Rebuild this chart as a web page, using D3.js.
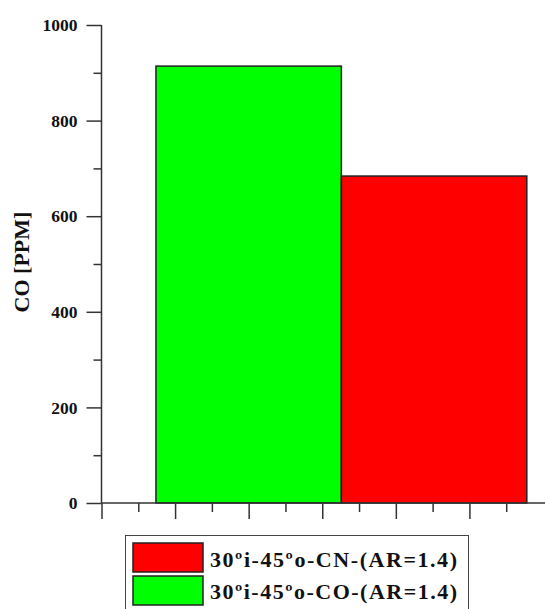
<!DOCTYPE html>
<html><head><meta charset="utf-8">
<script src="https://cdn.jsdelivr.net/npm/d3@7"></script>
<style>body{margin:0;background:#fff}svg{display:block}</style>
</head><body>
<svg id="c" width="545" height="609"></svg>
<script>
const series = ["30ºi-45ºo-CO-(AR=1.4)", "30ºi-45ºo-CN-(AR=1.4)"];
const values = [914, 684];
const centers = [2, 4.52];
const barWidthUnits = 2.52;
const colors = ["#00ff00", "#ff0000"];
const yTicks = [0, 200, 400, 600, 800, 1000];
const legendOrder = [1, 0];

const svg = d3.select("#c");
const x = d3.scaleLinear().domain([0, 6]).range([101.5, 543]);
const y = d3.scaleLinear().domain([0, 1000]).range([503, 25]);
const axisColor = "#333";

// bars
svg.selectAll("rect.bar").data(values).enter().append("rect")
  .attr("x", (d,i) => x(centers[i] - barWidthUnits/2))
  .attr("width", (d,i) => x(centers[i] + barWidthUnits/2) - x(centers[i] - barWidthUnits/2))
  .attr("y", d => y(d))
  .attr("height", d => y(0) - y(d))
  .attr("fill", (d,i) => colors[i])
  .attr("stroke", "#222").attr("stroke-width", 1.5);

// y axis
const yAxis = d3.axisLeft(y).tickValues(yTicks).tickSize(15).tickPadding(9).tickFormat(d3.format("d"));
const gy = svg.append("g").attr("transform", `translate(${x(0)},0)`).call(yAxis);
gy.select(".domain").attr("stroke", axisColor).attr("stroke-width", 1.5).attr("d", `M0,${y(1000)}V${y(0)}`);
gy.selectAll(".tick line").attr("stroke", axisColor).attr("stroke-width", 1.5);
gy.selectAll(".tick text").attr("font-family", "Liberation Serif").attr("font-weight", "bold").attr("font-size", 17.5).attr("fill", "#111");
const yMinor = d3.axisLeft(y).tickValues([100,300,500,700,900]).tickSize(8).tickFormat("");
const gym = svg.append("g").attr("transform", `translate(${x(0)},0)`).call(yMinor);
gym.select(".domain").remove();
gym.selectAll(".tick line").attr("stroke", axisColor).attr("stroke-width", 1.5);

// x axis
const xAxis = d3.axisBottom(x).tickValues([0,1,2,3,4,5]).tickSize(16).tickFormat("");
const gx = svg.append("g").attr("transform", `translate(0,${y(0)})`).call(xAxis);
gx.select(".domain").attr("stroke", axisColor).attr("stroke-width", 1.5).attr("d", `M${x(0)},0H545`);
gx.selectAll(".tick line").attr("stroke", axisColor).attr("stroke-width", 1.5);
const xMinor = d3.axisBottom(x).tickValues([0.5,1.5,2.5,3.5,4.5,5.5]).tickSize(9).tickFormat("");
const gxm = svg.append("g").attr("transform", `translate(0,${y(0)})`).call(xMinor);
gxm.select(".domain").remove();
gxm.selectAll(".tick line").attr("stroke", axisColor).attr("stroke-width", 1.5);

// y title
svg.append("text").attr("transform", "translate(29,262) rotate(-90)")
  .attr("text-anchor", "middle").attr("font-family", "Liberation Serif").attr("font-weight", "bold")
  .attr("font-size", 22).attr("fill", "#111").text("CO [PPM]");

// legend
const lg = svg.append("g");
lg.append("rect").attr("x", 125.5).attr("y", 535.5).attr("width", 343).attr("height", 80)
  .attr("fill", "#fff").attr("stroke", "#444").attr("stroke-width", 1);
legendOrder.forEach((si, row) => {
  lg.append("rect").attr("x", 133).attr("y", 543 + row*33).attr("width", 70).attr("height", 29)
    .attr("fill", colors[si]).attr("stroke", "#222").attr("stroke-width", 1.5);
  lg.append("text").attr("x", 210).attr("y", 566.5 + row*32.5)
    .attr("font-family", "Liberation Serif").attr("font-weight", "bold").attr("font-size", 22)
    .attr("textLength", 247).attr("lengthAdjust", "spacing")
    .attr("fill", "#111").text(series[si]);
});
</script>
</body></html>
